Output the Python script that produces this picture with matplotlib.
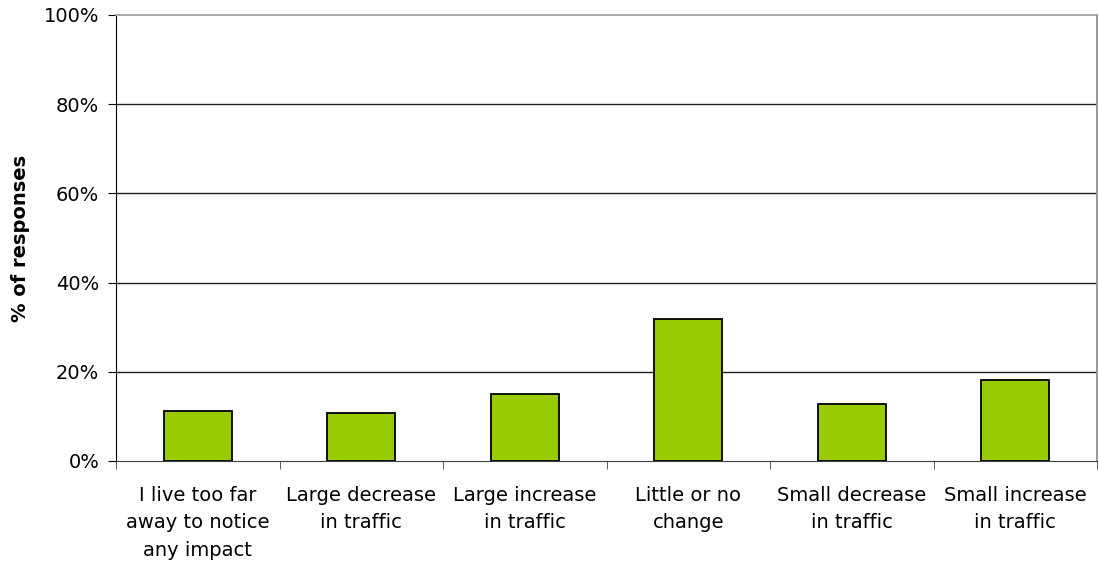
import numpy as np
import matplotlib.pyplot as plt
from matplotlib.ticker import PercentFormatter

categories = ["I live too far\naway to notice\nany impact", "Large decrease\nin traffic",
              "Large increase\nin traffic", "Little or no\nchange",
              "Small decrease\nin traffic", "Small increase\nin traffic"]
values = [11.2, 10.8, 15.0, 31.8, 12.7, 18.1]
y_ticks = [0, 20, 40, 60, 80, 100]

plt.rcParams['font.family'] = ['DejaVu Sans']

fig = plt.figure(figsize=(10.99, 5.70), dpi=100)
ax = fig.add_axes([116 / 1099, 1 - 461 / 570, (1097 - 116) / 1099, (461 - 15) / 570])

x = np.arange(len(categories))
ax.bar(x, values, width=0.415, color='#99cc00', edgecolor='black', linewidth=1.3, zorder=3)

ax.set_xlim(-0.5, len(categories) - 0.5)
ax.set_ylim(0, 100)
ax.set_yticks(y_ticks)
ax.yaxis.set_major_formatter(PercentFormatter(decimals=0))
for t in y_ticks[1:-1]:
    ax.axhline(t, color='#202020', linewidth=1, zorder=1)

# category labels centred, ticks between categories
ax.set_xticks(x)
ax.set_xticklabels(categories, fontsize=14, linespacing=1.55)
ax.tick_params(axis='x', length=0, pad=18)
ax.set_xticks(np.arange(len(categories) + 1) - 0.5, minor=True)
ax.tick_params(axis='x', which='minor', length=6, color='#404040', direction='out')
ax.tick_params(axis='y', length=6, direction='out', labelsize=14, pad=6)

ax.spines['left'].set_color('black')
ax.spines['bottom'].set_color('#404040')
ax.spines['top'].set_color('#a0a0a0')
ax.spines['right'].set_color('#909090')
ax.spines['top'].set_linewidth(1.3)
ax.spines['right'].set_linewidth(1.3)

ax.set_ylabel('% of responses', fontsize=14, fontweight='bold', labelpad=10)

fig.savefig('out.png', dpi=100)
